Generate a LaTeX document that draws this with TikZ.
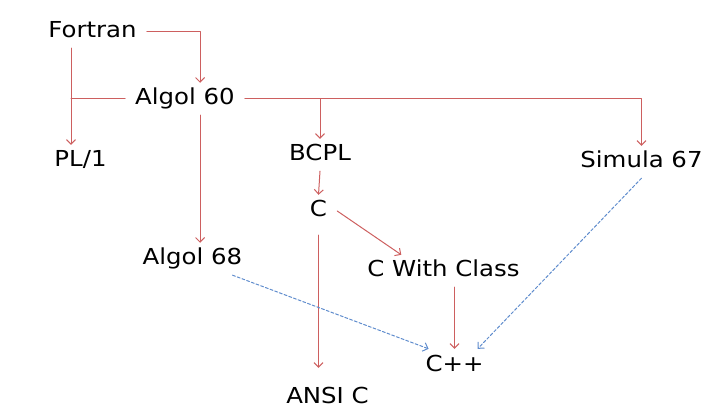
\documentclass[tikz,border=0pt]{standalone}
\usepackage{fontspec}
\setmainfont{DejaVu Sans}[FakeStretch=1.11]
\usepackage{tikz}
\usetikzlibrary{arrows,arrows.meta}
\definecolor{linkred}{RGB}{205,95,95}
\definecolor{linkblue}{RGB}{95,140,205}

\begin{document}
\begin{tikzpicture}[x=1pt,y=-1pt,line cap=round,line join=round,>={Straight Barb[length=4.5pt,width=9pt]},
        lang/.style={anchor=base,font=\fontsize{22}{26}\selectfont,text height=16pt,text depth=4pt,inner xsep=10pt,inner ysep=6pt},
        link/.style={->,line width=1pt,linkred},
        infl/.style={->,line width=1pt,linkblue,dash pattern=on 3pt off 2pt}]
        \useasboundingbox (0,0) rectangle (718,414);
        \node[lang] (fortran) at (92.5,38) {Fortran};
        \node[lang] (algol60) at (185,105) {Algol 60};
        \node[lang] (pl1) at (80.5,167) {PL/1};
        \node[lang] (bcpl) at (320,161) {BCPL};
        \node[lang] (simula) at (641.5,168) {Simula 67};
        \node[lang] (c) at (318.5,217) {C};
        \node[lang] (algol68) at (192.5,265) {Algol 68};
        \node[lang] (cwc) at (443.5,277) {C With Class};
        \node[lang] (cpp) at (454.5,371) {C++};
        \node[lang] (ansic) at (327.5,403) {ANSI C};
        
        \draw [link] (fortran.east) -| (algol60.47);
        \draw [link] (fortran.217) -- (fortran.217 |- pl1.north);
        \draw [line width=1pt,linkred] (algol60.west) -- (algol60.west -| fortran.217);
        \draw [link] (algol60.east) -| (simula.north);
        \draw [link] (bcpl.north |- algol60.east) -- (bcpl.north);
        \draw [link] (algol60.-47) -- (algol60.-47 |- algol68.north);
        \draw [link] (bcpl.south) -- (c.north);
        \draw [link] (c.east) -- (cwc.159);
        \draw [link,shorten <=8pt,shorten >=13pt] (c.south) -- (c.south |- ansic.north);
        \draw [link] (cpp.north |- cwc.south) -- (cpp.north);
        \draw [infl] (algol68.-22) -- (cpp.148);
        \draw [infl] (simula.south) -- (cpp.35);
        
        \end{tikzpicture}
\end{document}
